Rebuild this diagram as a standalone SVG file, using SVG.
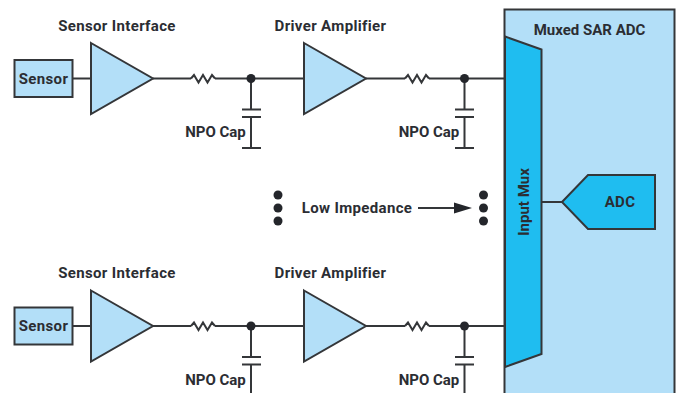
<svg xmlns="http://www.w3.org/2000/svg" width="678" height="393" viewBox="0 0 678 393">
<style>
text{font-family:"Roboto","Liberation Sans",sans-serif;font-weight:700;font-size:15px;letter-spacing:.35px;fill:#2b2d33}
text.t{letter-spacing:0}
.m{text-anchor:middle}
.l{fill:#b3dff8;stroke:#343639;stroke-width:2}
.b{fill:#1fbdf0;stroke:#343639;stroke-width:2}
.w{fill:none;stroke:#343639;stroke-width:2}
.d{fill:#24262b}
</style>
<defs>
<path id="res" class="w" d="M191 78.500L194 75L198.500 82.500L203 75L207.500 82.500L212 75L215 78.500"/>
</defs>
<g id="sensor-1"><rect class="l" x="14.500" y="60" width="58" height="37"/><text class="m" x="43.500" y="84">Sensor</text></g>
<g id="amp-1"><path class="l" d="M91 43L153 78.500L91 114Z"/></g>
<g id="amp-2"><path class="l" d="M304 43L366 78.500L304 114Z"/></g>
<g id="sensor-2"><rect class="l" x="14.500" y="307.500" width="58" height="37"/><text class="m" x="43.500" y="331">Sensor</text></g>
<g id="amp-3"><path class="l" d="M91 290.500L153 326L91 361.500Z"/></g>
<g id="amp-4"><path class="l" d="M304 290.500L366 326L304 361.500Z"/></g>
<g id="adc-box"><rect class="l" x="504.500" y="9.500" width="170" height="390"/><text class="m t" x="589.500" y="34.500">Muxed SAR ADC</text></g>
<g id="mux"><path class="b" d="M505 36.500L541.500 49.500V354L505 367Z"/><text class="m t" transform="translate(529 202) rotate(-90)">Input Mux</text></g>
<g id="adc"><path class="b" d="M562 202L588 175H655V229H588Z"/><text class="m" x="620" y="207">ADC</text></g>
<g id="connectors">
<g id="wires-top">
<path class="w" d="M72 78.500H91M153 78.500H191M215 78.500H304M366 78.500H405M429 78.500H505"/>
<use href="#res"/><use href="#res" x="214"/>
<path class="w" d="M251 78.500V109.500M242 109.500H261M242 117H261M251 117V148M242 148H261"/>
<path class="w" d="M464.500 78.500V109.500M455 109.500H474M455 117H474M464.500 117V148M455 148H474"/>
<circle class="d" cx="251" cy="78.500" r="4.500"/><circle class="d" cx="464.500" cy="78.500" r="4.500"/>
</g>
<g id="wires-bottom">
<path class="w" d="M72 326H91M153 326H191M215 326H304M366 326H405M429 326H505"/>
<use href="#res" y="247.500"/><use href="#res" x="214" y="247.500"/>
<path class="w" d="M251 326V357M242 357H261M242 364.500H261M251 364.500V396"/>
<path class="w" d="M464.500 326V357M455 357H474M455 364.500H474M464.500 364.500V396"/>
<circle class="d" cx="251" cy="326" r="4.500"/><circle class="d" cx="464.500" cy="326" r="4.500"/>
</g>
<path class="w" d="M541 202H562"/>
<path class="w" d="M418 208H456"/>
<path class="d" d="M454 202.500L472 208L454 213.500Z"/>
</g>
<g id="labels">
<text class="m" x="117" y="31">Sensor Interface</text>
<text class="m" x="330.500" y="31">Driver Amplifier</text>
<text class="m t" x="215.500" y="137">NPO Cap</text>
<text class="m t" x="429" y="137">NPO Cap</text>
<text class="m" x="117" y="278">Sensor Interface</text>
<text class="m" x="330.500" y="278">Driver Amplifier</text>
<text class="m t" x="215.500" y="384.500">NPO Cap</text>
<text class="m t" x="429" y="384.500">NPO Cap</text>
<text class="m" x="357" y="213">Low Impedance</text>
</g>
<g id="dots-left"><circle class="d" cx="278" cy="195" r="4.500"/><circle class="d" cx="278" cy="208" r="4.500"/><circle class="d" cx="278" cy="221" r="4.500"/></g>
<g id="dots-right"><circle class="d" cx="483.500" cy="195" r="4.500"/><circle class="d" cx="483.500" cy="208" r="4.500"/><circle class="d" cx="483.500" cy="221" r="4.500"/></g>
</svg>
